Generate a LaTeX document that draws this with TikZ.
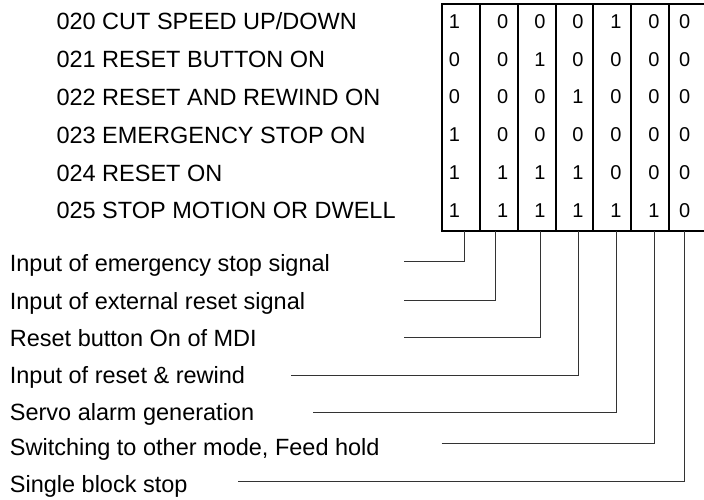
\documentclass[tikz,border=0pt]{standalone}
\usepackage{fontspec}
\setmainfont{Liberation Sans}
\begin{document}
\begin{tikzpicture}[x=1pt,y=-1pt,
  lbl/.style={anchor=base west,inner sep=0pt,font=\fontsize{23.5}{28}\selectfont},
  dig/.style={anchor=base,inner sep=0pt,font=\fontsize{20}{24}\selectfont},
  tbl/.style={line width=1.8pt,line cap=rect},
  conn/.style={line width=1pt,draw=black!80}]
\useasboundingbox (0,0) rectangle (704,500);

% top labels
\foreach \i/\t in {0/{020 CUT SPEED UP/DOWN},1/021 RESET BUTTON ON,2/022 RESET AND REWIND ON,3/023 EMERGENCY STOP ON,4/024 RESET ON,5/025 STOP MOTION OR DWELL}
  \node[lbl] (t\i) at (56.3,{21.5+37.8*\i+8.4}) {\t};

% table
\draw[tbl] (441.7,4) -- (706,4);
\draw[tbl] (441.7,230.7) -- (706,230.7);
\foreach \x in {441.7,479.7,517.7,555.7,593.3,631,669}
  \draw[tbl] (\x,4) -- (\x,230.7);

% digits
\foreach \r/\vals in {0/{1,0,0,0,1,0,0},1/{0,0,1,0,0,0,0},2/{0,0,0,1,0,0,0},3/{1,0,0,0,0,0,0},4/{1,1,1,1,0,0,0},5/{1,1,1,1,1,1,0}}{
  \foreach \v [count=\c] in \vals {
    \pgfmathsetmacro{\xx}{{454.5,502.7,540,578,616,654,684.7}[\c-1]}
    \node[dig] (d\r\c) at (\xx,{21.2+37.8*\r+7.2}) {\v};
  }
}

% bottom labels and connectors
\foreach \i/\t/\ty/\sx/\y/\bx in {
  1/Input of emergency stop signal/263.5/404/261.7/464.3,
  2/Input of external reset signal/301/404/300/495.7,
  3/Reset button On of MDI/338.5/404/337.7/540.7,
  4/Input of reset \& rewind/375.5/291/375/578.3,
  5/Servo alarm generation/411.8/313/412.7/616.3,
  6/{Switching to other mode, Feed hold}/447/441.7/443.3/654,
  7/Single block stop/484/238/481/684}{
  \node[lbl] (l\i) at (9.7,{\ty+8.4}) {\t};
  \coordinate (s\i) at (\sx,\y);
  \coordinate (b\i) at (\bx,230.7);
  \draw[conn] (s\i) -| (b\i);
}
\end{tikzpicture}
\end{document}
